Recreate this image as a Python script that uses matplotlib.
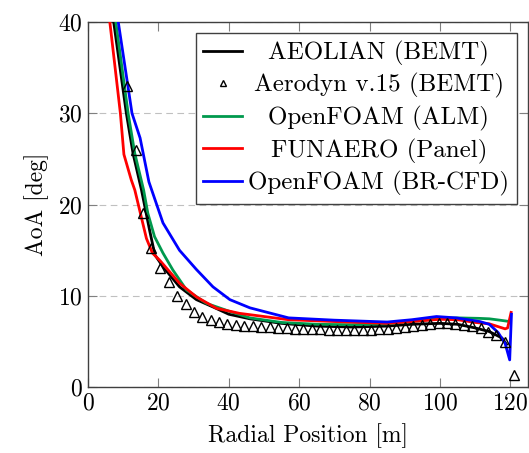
import matplotlib
matplotlib.use("Agg")
import matplotlib.pyplot as plt

plt.rcParams['font.family'] = 'serif'
plt.rcParams['font.serif'] = ['cmr10']
plt.rcParams['mathtext.fontset'] = 'cm'
plt.rcParams['axes.formatter.use_mathtext'] = True

# ---- data ----
aeolian_r = [7.3, 10.9, 12.8, 15.2, 17.5, 19.0, 21.3, 26.0, 30.8, 35.5, 40.0, 46.0, 55.0, 65.0,
             75.0, 85.0, 92.0, 100.0, 105.0, 110.0, 114.0, 117.6, 118.9]
aeolian_a = [40.0, 30.0, 25.6, 21.6, 17.2, 14.5, 13.2, 11.0, 9.6, 8.8, 8.0, 7.5, 7.0, 6.7,
             6.6, 6.7, 6.9, 7.0, 6.9, 6.5, 6.1, 5.4, 4.7]

aerodyn_r = [11.1, 13.5, 15.6, 18.0, 20.4, 22.9, 25.3, 27.8, 30.1, 32.4, 34.9, 37.2, 39.6, 42.0,
             44.4, 46.8, 49.2, 51.6, 54.0, 56.4, 58.8, 61.2, 63.6, 66.0, 68.4, 70.8, 73.2, 75.6,
             78.0, 80.4, 82.8, 85.2, 87.6, 90.0, 92.4, 94.8, 97.2, 99.6, 102.0, 104.4, 106.8,
             109.2, 111.6, 113.6, 116.0, 118.6, 121.0]
aerodyn_a = [33.0, 26.0, 19.1, 15.2, 13.1, 11.5, 10.0, 9.1, 8.3, 7.7, 7.4, 7.1, 6.9, 6.8,
             6.75, 6.7, 6.6, 6.55, 6.5, 6.45, 6.4, 6.4, 6.35, 6.35, 6.3, 6.3, 6.3, 6.3,
             6.3, 6.3, 6.35, 6.4, 6.5, 6.6, 6.75, 6.85, 6.95, 7.0, 7.0, 6.95, 6.85,
             6.7, 6.45, 6.1, 5.7, 5.0, 1.3]

alm_r = [7.9, 11.4, 13.3, 15.8, 17.0, 18.9, 21.3, 24.1, 28.0, 33.6, 40.3, 46.0, 55.0, 65.0,
         75.0, 85.0, 92.0, 100.0, 105.0, 111.0, 114.0, 117.0, 119.8]
alm_a = [40.0, 30.0, 25.6, 21.6, 19.05, 16.5, 14.7, 12.85, 10.65, 9.2, 8.3, 7.6, 7.1, 6.9,
         6.85, 6.95, 7.2, 7.55, 7.6, 7.55, 7.5, 7.35, 7.2]

panel_r = [6.2, 9.2, 10.2, 12.3, 13.3, 16.6, 18.3, 20.4, 26.0, 30.8, 36.5, 43.0, 57.0, 70.0,
           85.0, 92.0, 100.0, 105.0, 110.0, 114.0, 118.5, 119.2, 120.2]
panel_a = [40.0, 30.0, 25.5, 22.7, 21.6, 16.3, 14.7, 13.9, 11.4, 9.9, 8.65, 8.1, 7.4, 7.2,
           7.0, 7.2, 7.45, 7.4, 7.1, 6.95, 6.4, 6.5, 8.2]

brcfd_r = [8.6, 12.5, 14.8, 17.3, 21.3, 26.0, 30.8, 35.5, 40.3, 46.0, 57.0, 70.0, 85.0, 92.0,
           99.0, 104.6, 111.3, 114.0, 116.5, 118.5, 119.8, 120.3]
brcfd_a = [40.0, 30.0, 27.3, 22.5, 18.0, 15.0, 12.9, 11.0, 9.6, 8.7, 7.6, 7.35, 7.15, 7.4,
           7.75, 7.6, 7.2, 6.9, 6.0, 4.8, 3.0, 8.0]

labels = ['AEOLIAN (BEMT)', 'Aerodyn v.15 (BEMT)', 'OpenFOAM (ALM)',
          'FUNAERO (Panel)', 'OpenFOAM (BR-CFD)']
colors = ['black', 'black', '#00994d', '#ff0000', '#0000ff']

x_ticks = [0, 20, 40, 60, 80, 100, 120]
y_ticks = [0, 10, 20, 30, 40]

# ---- figure ----
fig = plt.figure(figsize=(5.29, 4.53), dpi=100)
ax = fig.add_axes([88 / 529, (453 - 387.3) / 453, (528 - 88) / 529, (387.3 - 22) / 453])

lw = 2.0
ax.plot(aeolian_r, aeolian_a, color=colors[0], lw=lw, label=labels[0], zorder=3)
ax.plot(aerodyn_r, aerodyn_a, linestyle='none', marker='^', markersize=6.5,
        markerfacecolor='none', markeredgecolor='black', markeredgewidth=1.0,
        label=labels[1], zorder=4)
ax.plot(alm_r, alm_a, color=colors[2], lw=lw, label=labels[2], zorder=3)
ax.plot(panel_r, panel_a, color=colors[3], lw=lw, label=labels[3], zorder=3)
ax.plot(brcfd_r, brcfd_a, color=colors[4], lw=lw, label=labels[4], zorder=3)

ax.set_xlim(0, 125)
ax.set_ylim(0, 40)
ax.set_xticks(x_ticks)
ax.set_yticks(y_ticks)
ax.tick_params(direction='in', length=6.5, width=0.8, color='#808080',
               top=True, right=True, labelsize=17, pad=4)
for s in ax.spines.values():
    s.set_color('#404040')
    s.set_linewidth(1.0)
ax.yaxis.grid(True, linestyle=(0, (6, 4)), color='#c0c0c0', linewidth=0.8)
ax.set_axisbelow(True)

ax.set_xlabel('Radial Position [m]', fontsize=17, labelpad=6)
ax.set_ylabel('AoA [deg]', fontsize=17, labelpad=6)

leg = ax.legend(loc='upper right', fontsize=18, frameon=True, fancybox=False,
                edgecolor='#404040', framealpha=1.0, handlelength=1.55,
                handletextpad=0.25, labelspacing=0.3, borderpad=0.3,
                borderaxespad=0.45, markerscale=0.65)
leg.get_frame().set_linewidth(1.0)

# center legend texts within their column (like pgfplots)
fig.canvas.draw()
r = fig.canvas.get_renderer()
texts = leg.get_texts()
widths = [t.get_window_extent(r).width for t in texts]
mw = max(widths)
for t, w in zip(texts, widths):
    t.set_position(((mw - w) / 2, 0))

fig.savefig('out.png', dpi=100)
